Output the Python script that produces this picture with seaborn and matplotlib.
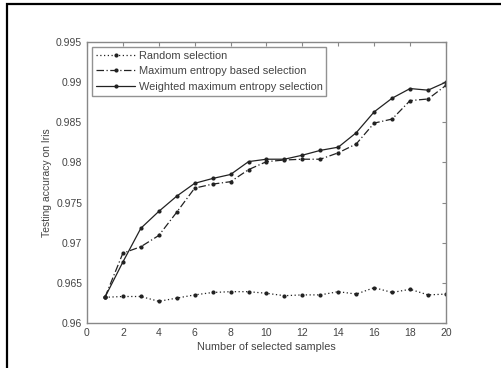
"""testing accuracy vs number of selected samples (Iris)"""

import numpy as np
import pandas as pd
import matplotlib
matplotlib.use("Agg")
import matplotlib.pyplot as plt
from matplotlib.patches import Rectangle
import seaborn as sns


samples = list(range(1, 21))
random_sel = [0.9632, 0.9633, 0.9633, 0.9627, 0.9631, 0.9635, 0.9638, 0.9639, 0.9639, 0.9637,
              0.9634, 0.9635, 0.9635, 0.9639, 0.9636, 0.9644, 0.9638, 0.9642, 0.9635, 0.9636]
max_entropy = [0.9632, 0.9687, 0.9695, 0.9709, 0.9738, 0.9768, 0.9773, 0.9776, 0.9791, 0.9801,
               0.9803, 0.9804, 0.9804, 0.9812, 0.9823, 0.9849, 0.9854, 0.9877, 0.9879, 0.9896]
weighted = [0.9632, 0.9676, 0.9718, 0.9739, 0.9758, 0.9774, 0.9780, 0.9785, 0.9801, 0.9804,
            0.9804, 0.9809, 0.9815, 0.9819, 0.9837, 0.9863, 0.9880, 0.9892, 0.9890, 0.9900]

labels = ["Random selection", "Maximum entropy based selection", "Weighted maximum entropy selection"]
styles = [(0, (1, 2)), (0, (6, 2, 1, 2)), "-"]

df = pd.DataFrame({"samples": samples * 3,
                   "acc": random_sel + max_entropy + weighted,
                   "method": np.repeat(labels, len(samples))})

sns.set_style("white")
plt.rcParams["font.family"] = ["Liberation Sans", "DejaVu Sans"]
plt.rcParams["font.size"] = 7.5

fig = plt.figure(figsize=(5.02, 3.68), dpi=100)
ax = fig.add_axes([0.1733, 0.1223, 0.7151, 0.7636])

text_col = "#444444"
for lab, ls in zip(labels, styles):
    sub = df[df.method == lab]
    sns.lineplot(data=sub, x="samples", y="acc", ax=ax, color="#222222", lw=0.9,
                 linestyle=ls, marker="o", markersize=3, markeredgewidth=0, label=lab)

ax.set_xlim(0, 20)
ax.set_ylim(0.96, 0.995)
ax.set_xticks(range(0, 21, 2))
ax.set_yticks([0.96, 0.965, 0.97, 0.975, 0.98, 0.985, 0.99, 0.995])
ax.set_yticklabels(["0.96", "0.965", "0.97", "0.975", "0.98", "0.985", "0.99", "0.995"])
ax.tick_params(direction="in", length=3, width=0.8, color="#888888", labelcolor=text_col,
               top=True, right=True, labelsize=7.5)
for s in ax.spines.values():
    s.set_color("#888888")
    s.set_linewidth(1.0)

ax.set_xlabel("Number of selected samples", color=text_col, fontsize=7.8, labelpad=3)
ax.set_ylabel("Testing accuracy on Iris", color=text_col, fontsize=7.5, labelpad=3)

leg = ax.legend(loc="upper left", fontsize=7.9, frameon=True, fancybox=False,
                borderaxespad=0.45, handlelength=3.6, handletextpad=0.3,
                labelspacing=0.5, borderpad=0.35)
leg.get_frame().set_edgecolor("#777777")
leg.get_frame().set_linewidth(1.0)
for t in leg.get_texts():
    t.set_color(text_col)

# outer frame around the whole picture
fig.patches.append(Rectangle((7 / 502, -0.02), 1.05, 1 - 4 / 368 + 0.02, transform=fig.transFigure,
                             fill=False, edgecolor="black", lw=1.6))

fig.savefig("out.png", dpi=100)
